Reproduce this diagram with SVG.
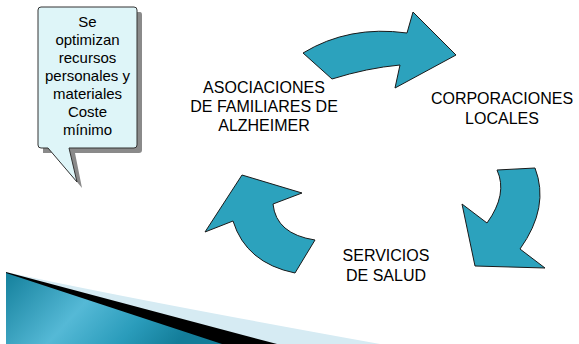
<svg xmlns="http://www.w3.org/2000/svg" width="579" height="344" viewBox="0 0 579 344">
<defs>
<style>
.arrow{fill:#2ca2bd;stroke:#1a1a1a;stroke-width:1;stroke-linejoin:miter}
.lbl{font-family:"Liberation Sans",Arial,sans-serif;font-size:16px;fill:#000;text-anchor:middle}
.ct{font-family:"Liberation Sans",Arial,sans-serif;font-size:15px;fill:#000;text-anchor:middle}
</style>
<linearGradient id="teal" x1="0" y1="0" x2="1" y2="0.3">
<stop offset="0" stop-color="#14809c"/>
<stop offset="0.45" stop-color="#55b9d6"/>
<stop offset="0.75" stop-color="#2a9cbb"/>
<stop offset="1" stop-color="#137d99"/>
</linearGradient>
</defs>
<rect width="579" height="344" fill="#ffffff"/>

<g id="decor">
<path d="M6,272 Q130,299 380,344 L6,344 Z" fill="#d6ebf3"/>
<path d="M6,272 L277,344 L6,344 Z" fill="#000000"/>
<path d="M6,273 L222,344 L6,344 Z" fill="url(#teal)"/>
</g>

<g id="callout">
<path d="M43,12 L140,12 Q142,12 142,15 L142,150 Q142,153 139,153 L75,153 L82,188 L53,153 L43,153 Z" fill="#8a8a8a"/>
<path d="M41,7 L134,7 Q137,7 137,10 L137,145 Q137,148 134,148 L69,148 L77,182 L48,148 L41,148 Q38,148 38,145 L38,10 Q38,7 41,7 Z" fill="#def5f8" stroke="#333333" stroke-width="1"/>
<text class="ct" x="87.5" y="27">Se</text>
<text class="ct" x="87.5" y="45">optimizan</text>
<text class="ct" x="87.5" y="63">recursos</text>
<text class="ct" x="87.5" y="81">personales y</text>
<text class="ct" x="87.5" y="99">materiales</text>
<text class="ct" x="87.5" y="117">Coste</text>
<text class="ct" x="87.5" y="135">mínimo</text>
</g>

<g id="connectors">
<path class="arrow" d="M303,53 Q349,25 407,33 L413,12 L456,55 L395,88 L400,65 Q367,68 332,79 Z"/>
<path class="arrow" d="M497,170 L535,168 Q550,207 520,249 L545,268 L475,266 L462,204 L487,223 Q508,194 497,170 Z"/>
<path class="arrow" d="M242,175 L302,193 L273,204 Q276,234 315,240 L295,273 Q246,263 233,221 L205,232 Z"/>
</g>

<g id="node-asociaciones">
<text class="lbl" x="264" y="93">ASOCIACIONES</text>
<text class="lbl" x="264" y="112">DE FAMILIARES DE</text>
<text class="lbl" x="264" y="131">ALZHEIMER</text>
</g>
<g id="node-corporaciones">
<text class="lbl" x="502" y="104">CORPORACIONES</text>
<text class="lbl" x="502" y="124">LOCALES</text>
</g>
<g id="node-servicios">
<text class="lbl" x="386" y="261">SERVICIOS</text>
<text class="lbl" x="386" y="281">DE SALUD</text>
</g>
</svg>
